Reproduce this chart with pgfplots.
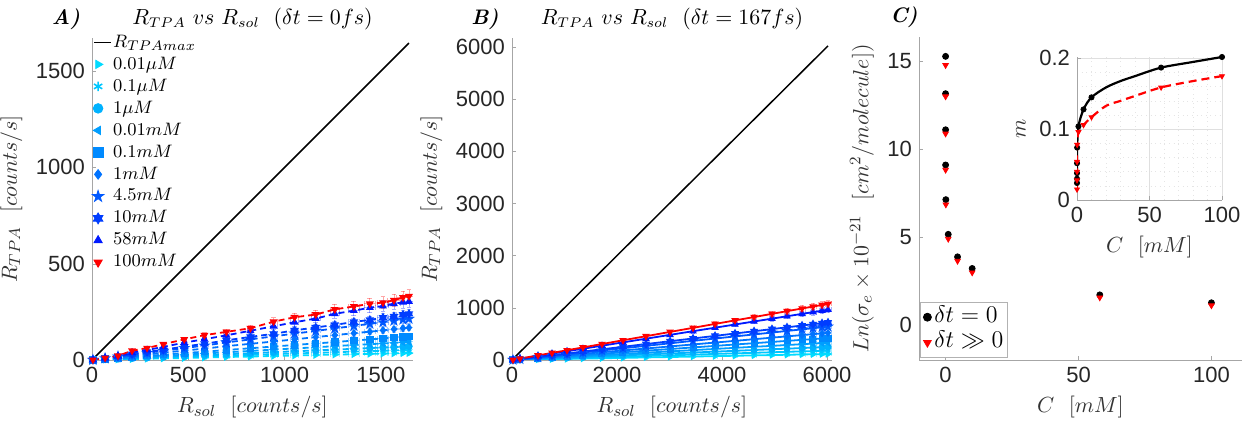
\documentclass[border=0pt]{standalone}
\usepackage{fontspec}
\usepackage{pgfplots}
\pgfplotsset{compat=1.18}
\usepackage{pgfplotstable}
\newfontfamily\arial{Liberation Sans}

% colours, cyan -> blue, plus red for 100 mM
\definecolor{c1}{rgb}{0,0.86,1}
\definecolor{c2}{rgb}{0,0.78,1}
\definecolor{c3}{rgb}{0,0.70,1}
\definecolor{c4}{rgb}{0,0.62,1}
\definecolor{c5}{rgb}{0,0.54,1}
\definecolor{c6}{rgb}{0,0.45,1}
\definecolor{c7}{rgb}{0,0.35,1}
\definecolor{c8}{rgb}{0,0.24,1}
\definecolor{c9}{rgb}{0,0.10,1}
\definecolor{c10}{rgb}{1,0,0}

\pgfdeclareplotmark{pentagram*}{%
  \pgfpathmoveto{\pgfpointpolar{90}{1.25\pgfplotmarksize}}%
  \pgfpathlineto{\pgfpointpolar{126}{0.48\pgfplotmarksize}}%
  \pgfpathlineto{\pgfpointpolar{162}{1.25\pgfplotmarksize}}%
  \pgfpathlineto{\pgfpointpolar{198}{0.48\pgfplotmarksize}}%
  \pgfpathlineto{\pgfpointpolar{234}{1.25\pgfplotmarksize}}%
  \pgfpathlineto{\pgfpointpolar{270}{0.48\pgfplotmarksize}}%
  \pgfpathlineto{\pgfpointpolar{306}{1.25\pgfplotmarksize}}%
  \pgfpathlineto{\pgfpointpolar{342}{0.48\pgfplotmarksize}}%
  \pgfpathlineto{\pgfpointpolar{18}{1.25\pgfplotmarksize}}%
  \pgfpathlineto{\pgfpointpolar{54}{0.48\pgfplotmarksize}}%
  \pgfpathclose\pgfusepathqfillstroke}
\pgfdeclareplotmark{hexagram*}{%
  \pgfpathmoveto{\pgfpointpolar{90}{1.15\pgfplotmarksize}}%
  \pgfpathlineto{\pgfpointpolar{210}{1.15\pgfplotmarksize}}%
  \pgfpathlineto{\pgfpointpolar{330}{1.15\pgfplotmarksize}}%
  \pgfpathclose
  \pgfpathmoveto{\pgfpointpolar{270}{1.15\pgfplotmarksize}}%
  \pgfpathlineto{\pgfpointpolar{30}{1.15\pgfplotmarksize}}%
  \pgfpathlineto{\pgfpointpolar{150}{1.15\pgfplotmarksize}}%
  \pgfpathclose\pgfusepathqfillstroke}

\pgfplotsset{
  mstyle/.style={
    scale only axis, axis lines*=left,
    axis line style={gray!70, line width=0.4pt},
    tick align=inside, major tick length=2pt, minor tick length=0pt,
    tick style={gray!70},
    tick label style={font=\arial\fontsize{11}{12}\selectfont, text=black!85},
    /pgf/number format/assume math mode=true,
    /pgf/number format/1000 sep={},
    label style={font=\fontsize{11}{13}\selectfont, text=black!80},
    every axis title shift=0pt,
    title style={font=\fontsize{10.5}{12}\selectfont, at={(0.5,1)}, anchor=center, yshift=9.5pt},
  },
  markleg/.style={legend image code/.code={%
      \path[draw=none, fill=none] (0pt,-2pt) rectangle (8.5pt,2pt);
      \draw[##1] plot coordinates {(2pt,0pt)};}},
  lineleg/.style={legend image code/.code={%
      \draw[##1] (0pt,0pt) -- (8.5pt,0pt);}},
  markleg2/.style={legend image code/.code={%
      \path[draw=none, fill=none] (0pt,-2pt) rectangle (5pt,2pt);
      \draw[##1] plot coordinates {(2.5pt,0pt)};}},
  s1/.style={c1, mark=triangle*, mark options={solid, rotate=-90}},
  s2/.style={c2, mark=asterisk, mark options={solid, line width=0.8pt}},
  s3/.style={c3, mark=*, mark options={solid}},
  s4/.style={c4, mark=triangle*, mark options={solid, rotate=90}},
  s5/.style={c5, mark=square*, mark options={solid}},
  s6/.style={c6, mark=diamond*, mark options={solid}},
  s7/.style={c7, mark=pentagram*, mark options={solid}},
  s8/.style={c8, mark=hexagram*, mark options={solid}},
  s9/.style={c9, mark=triangle*, mark options={solid}},
  s10/.style={c10, mark=triangle*, mark options={solid, rotate=180}},
  ebA/.style={error bars/.cd, y dir=both, y fixed relative=0.1,
    x dir=both, x fixed relative=0.02,
    error bar style={opacity=0.35, line width=0.4pt, solid},
    error mark options={rotate=90, mark size=1.2pt, opacity=0.35, solid}},
  ebB/.style={error bars/.cd, y dir=both, y fixed relative=0.06,
    x dir=both, x fixed relative=0.01,
    error bar style={opacity=0.35, line width=0.4pt, solid},
    error mark options={rotate=90, mark size=1.2pt, opacity=0.35, solid}},
}

% panel A: R_TPA vs R_sol, dt = 0 fs
\pgfplotstableread{
x    a1   a2   a3   a4   a5   a6   a7   a8   a9   a10
5    0.1  0.2  0.2  0.3  0.4  0.5  0.7  0.8  1    1
68   1.6  2.1  3.0  4.1  5.2  7.1  9.0  10   10   11
135  3.1  4.5  5.6  7.6  10   14   18   19   21   22
208  4.4  6.8  9.2  12   15   21   27   31   38   48
286  6.5  9.3  12   17   22   29   37   42   52   62
370  8.2  12   16   21   27   38   48   53   68   82
479  10.3 15   21   27   36   49   62   70   90   107
584  13   19   25   34   43   59   75   84   108  129
698  15.5 22   30   40   52   72   91   102  128  146
823  18   27   35   47   61   84   107  120  152  165
943  21   30   41   54   70   96   123  136  175  199
1052 23   34   45   60   78   107  137  154  196  222
1162 26   37   50   66   86   119  151  169  215  236
1261 28   40   54   72   93   129  164  182  240  263
1360 30   44   58   78   101  139  177  198  256  278
1443 32   46   62   82   107  147  188  208  272  292
1511 33   48   65   86   112  154  196  220  280  298
1568 34.5 50   67   89   116  160  204  226  292  310
1615 35.5 52   69   92   120  165  210  235  300  325
1646 36   53   71   94   122  168  214  240  304  331
}\dataA

% panel B: R_TPA vs R_sol, dt = 167 fs
\pgfplotstableread{
x     a1  a2  a3  a4  a5  a6  a7  a8  a9  a10
19    0   1   1   1   1   2   2   2   3   3
152   3   5   6   8   11  13  16  18  24  27
495   9   15  21  27  35  43  53  59  79  88
762   15  23  32  42  53  66  81  91  122 136
1048  20  31  43  57  73  91  111 125 168 187
1352  26  40  56  74  94  117 144 162 216 241
1714  33  51  71  94  120 148 182 205 274 306
2114  40  63  88  116 148 183 225 253 338 378
2552  49  76  106 140 178 220 271 305 408 456
3010  57  90  125 165 210 260 320 360 482 538
3448  66  103 143 189 241 298 367 412 552 616
3867  74  116 160 212 270 334 411 462 619 691
4248  81  127 176 233 297 367 452 508 680 759
4610  88  138 191 253 322 398 490 551 738 823
4952  95  148 206 271 346 428 526 592 792 884
5238  100 157 217 287 366 453 557 626 838 936
5524  106 165 229 303 386 477 587 661 884 987
5733  110 171 238 314 400 495 609 686 917 1024
5905  113 177 245 324 412 510 628 706 945 1055
6019  115 180 250 330 420 520 640 720 963 1075
}\dataB

% panel C: Ln(sigma_e) vs C
\pgfplotstableread{
c       b      r
0.00001 15.25  14.75
0.0001  13.13  12.97
0.001   11.08  10.86
0.01    9.08   8.80
0.1     7.11   6.83
1       5.14   4.88
4.5     3.86   3.63
10      3.20   2.97
58      1.70   1.55
100     1.25   1.10
}\dataC

% inset: slope m vs C (points)
\pgfplotstableread{
c       b      r
0.00001 0.024  0.015
0.0001  0.030  0.028
0.001   0.038  0.040
0.01    0.052  0.054
0.1     0.074  0.078
1       0.104  0.096
4.5     0.128  0.106
10      0.145  0.117
58      0.187  0.159
100     0.202  0.175
}\dataM

% inset: fitted curves read off the figure
\pgfplotstableread{
c       b      r
0.00001 0.024  0.015
0.01    0.052  0.054
0.1     0.074  0.078
1       0.104  0.096
4.5     0.128  0.106
10      0.145  0.117
20      0.159  0.133
30      0.168  0.140
40      0.175  0.147
58      0.187  0.159
80      0.195  0.168
100     0.202  0.175
}\fitM

\begin{document}
\begin{tikzpicture}
\useasboundingbox (0,0) rectangle (627.5pt,211.5pt);

% ---------- A ----------
\begin{axis}[mstyle, at={(46pt,31.5pt)}, anchor=south west,
  width=160.5pt, height=161pt,
  xmin=0, xmax=1667, ymin=0, ymax=1672,
  xtick={0,500,1000,1500}, ytick={0,500,1000,1500},
  xlabel={$R_{sol}\ \ [counts/s]$}, ylabel={$R_{TPA}\ \ [counts/s]$},
  title={$R_{TPA}\ vs\ R_{sol}\ \ (\delta t=0fs)$},
  legend style={at={(rel axis cs:0,1)}, anchor=north west, yshift=3.5pt,
    draw=none, fill=none, font=\fontsize{9.3}{11}\selectfont,
    inner sep=0pt, row sep=0pt,
    nodes={inner sep=0.6pt, text height=7.2pt, text depth=2.6pt}},
  legend cell align=left,
]
\addplot[black, line width=0.75pt, lineleg] coordinates {(0,0) (1646,1646)};
\addlegendentry{$R_{TPAmax}$}
\foreach \k/\lab in {1/0.01\mu M, 2/0.1\mu M, 3/1\mu M, 4/0.01mM, 5/0.1mM,
                     6/1mM, 7/4.5mM, 8/10mM, 9/58mM, 10/100mM}{
  \edef\tmp{\noexpand\addlegendimage{s\k, only marks, mark size=2.4pt, markleg}
    \noexpand\addlegendentry{$\lab$}}
  \tmp
}
\foreach \k in {1,...,10}{
  \edef\tmp{\noexpand\addplot[forget plot, s\k, line width=0.9pt, mark size=1.4pt,
    dash pattern=on 3pt off 2pt, ebA]
    table[x=x, y=a\k] {\noexpand\dataA};}
  \tmp
}
\end{axis}

% ---------- B ----------
\begin{axis}[mstyle, at={(256pt,31.5pt)}, anchor=south west,
  width=160pt, height=161pt,
  xmin=0, xmax=6095, ymin=0, ymax=6170,
  xtick={0,2000,4000,6000}, ytick={0,1000,...,6000},
  xlabel={$R_{sol}\ \ [counts/s]$}, ylabel={$R_{TPA}\ \ [counts/s]$},
  title={$R_{TPA}\ vs\ R_{sol}\ \ (\delta t=167fs)$},
]
\addplot[black, line width=0.75pt] coordinates {(0,0) (6019,6019)};
\foreach \k in {1,...,10}{
  \edef\tmp{\noexpand\addplot[s\k, line width=0.9pt, mark size=1.3pt, ebB]
    table[x=x, y=a\k] {\noexpand\dataB};}
  \tmp
}
\end{axis}

% ---------- C ----------
\begin{axis}[mstyle, at={(459.5pt,31.5pt)}, anchor=south west,
  width=161.5pt, height=161.5pt,
  xmin=-10, xmax=111.5, ymin=-2, ymax=16.35,
  xtick={0,50,100}, ytick={0,5,10,15},
  xlabel={$C\ \ [mM]$},
  ylabel={$Ln(\sigma_e\times 10^{-21}\ \ [cm^2/molecule])$},
  legend style={at={(rel axis cs:0,0)}, anchor=south west, xshift=0.5pt, yshift=1pt,
    draw=gray!60, fill=white, font=\fontsize{11.5}{13}\selectfont,
    inner sep=1pt, row sep=0pt,
    nodes={inner sep=1pt, text height=8pt, text depth=2.8pt}},
  legend cell align=left,
]
\addlegendimage{only marks, mark=*, black, mark size=2pt, markleg2}
\addlegendentry{$\delta t=0$}
\addlegendimage{only marks, mark=triangle*, mark options={rotate=180}, red, mark size=2.2pt, markleg2}
\addlegendentry{$\delta t\gg 0$}
\addplot[forget plot, only marks, mark=*, black, mark size=1.5pt] table[x=c, y=b] {\dataC};
\addplot[forget plot, only marks, mark=triangle*, mark options={rotate=180}, red, mark size=1.6pt]
  table[x=c, y=r] {\dataC};
\end{axis}

% ---------- inset ----------
\begin{axis}[mstyle, at={(538.5pt,111.5pt)}, anchor=south west,
  width=72.5pt, height=71.5pt,
  xmin=0, xmax=100, ymin=0, ymax=0.202,
  xtick={0,50,100}, ytick={0,0.1,0.2},
  minor xtick={10,20,30,40,60,70,80,90},
  minor ytick={0.02,0.04,0.06,0.08,0.12,0.14,0.16,0.18},
  grid=both, major grid style={gray!25, line width=0.3pt},
  minor grid style={gray!20, line width=0.3pt, dotted},
  axis background/.style={fill=white},
  xlabel={$C\ \ [mM]$}, ylabel={$m$},
  yticklabel style={/pgf/number format/fixed},
]
\addplot[black, line width=1.1pt, smooth, no marks] table[x=c, y=b] {\fitM};
\addplot[red, line width=1.1pt, smooth, no marks, dash pattern=on 4pt off 2.5pt] table[x=c, y=r] {\fitM};
\addplot[only marks, mark=*, black, mark size=1.3pt] table[x=c, y=b] {\dataM};
\addplot[only marks, mark=triangle*, mark options={rotate=180}, red, mark size=1.4pt] table[x=c, y=r] {\dataM};
\end{axis}

\node[font=\bfseries\itshape\fontsize{10.5}{12}\selectfont] at (33pt,202pt) {A)};
\node[font=\bfseries\itshape\fontsize{10.5}{12}\selectfont] at (242.5pt,202pt) {B)};
\node[font=\bfseries\itshape\fontsize{10.5}{12}\selectfont] at (452pt,203pt) {C)};
\end{tikzpicture}
\end{document}
